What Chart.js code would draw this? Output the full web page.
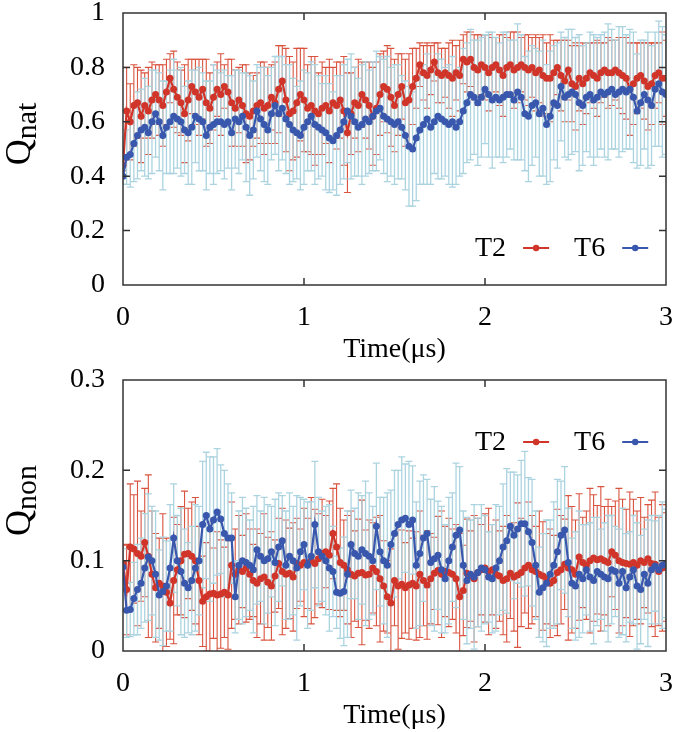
<!DOCTYPE html>
<html lang="en">
<head>
<meta charset="UTF-8">
<title>Qnat / Qnon vs time</title>
<script src="https://cdn.jsdelivr.net/npm/chart.js"></script>
<style>
  body { margin: 0; background: #fff; }
  canvas { display: block; }
</style>
</head>
<body>
<canvas id="natChart" width="675" height="366"></canvas>
<canvas id="nonChart" width="675" height="366"></canvas>

<script>
    // sampled every 0.02 us, 0..3 us
    const timeStep = 0.02;

    // Q_nat, T2 (red) and T6 (blue), with std. deviation
    const qnatT2 = [
        0.44, 0.64, 0.60, 0.66, 0.67, 0.62, 0.66, 0.64, 0.68, 0.70,
        0.68, 0.66, 0.71, 0.76, 0.72, 0.69, 0.67, 0.63, 0.68, 0.73,
        0.71, 0.69, 0.72, 0.67, 0.65, 0.69, 0.72, 0.70, 0.73, 0.71,
        0.67, 0.65, 0.68, 0.66, 0.63, 0.62, 0.64, 0.66, 0.67, 0.65,
        0.66, 0.69, 0.67, 0.72, 0.75, 0.68, 0.63, 0.64, 0.67, 0.70,
        0.68, 0.65, 0.66, 0.64, 0.63, 0.65, 0.66, 0.64, 0.67, 0.66,
        0.68, 0.64, 0.56, 0.63, 0.67, 0.66, 0.70, 0.68, 0.66, 0.62,
        0.65, 0.70, 0.73, 0.72, 0.69, 0.66, 0.70, 0.73, 0.67, 0.68,
        0.73, 0.76, 0.81, 0.78, 0.77, 0.79, 0.82, 0.78, 0.77, 0.78,
        0.77, 0.76, 0.78, 0.77, 0.83, 0.82, 0.83, 0.80, 0.79, 0.81,
        0.80, 0.78, 0.80, 0.81, 0.79, 0.77, 0.80, 0.81, 0.79, 0.80,
        0.81, 0.80, 0.79, 0.80, 0.78, 0.79, 0.77, 0.76, 0.76, 0.78,
        0.80, 0.77, 0.75, 0.79, 0.74, 0.73, 0.76, 0.74, 0.76, 0.78,
        0.77, 0.76, 0.78, 0.79, 0.78, 0.78, 0.79, 0.78, 0.77, 0.76,
        0.72, 0.74, 0.76, 0.77, 0.75, 0.73, 0.74, 0.77, 0.78, 0.76, 0.76
    ];
    const qnatT2Err = [
        0.02, 0.16, 0.14, 0.15, 0.13, 0.17, 0.12, 0.16, 0.14, 0.11,
        0.13, 0.15, 0.12, 0.09, 0.14, 0.13, 0.12, 0.18, 0.15, 0.10,
        0.12, 0.14, 0.11, 0.16, 0.13, 0.12, 0.10, 0.15, 0.08, 0.12,
        0.16, 0.14, 0.12, 0.15, 0.18, 0.16, 0.13, 0.12, 0.15, 0.17,
        0.14, 0.12, 0.15, 0.16, 0.13, 0.19, 0.21, 0.18, 0.20, 0.17,
        0.19, 0.16, 0.18, 0.20, 0.15, 0.17, 0.14, 0.19, 0.13, 0.16,
        0.14, 0.20, 0.22, 0.15, 0.13, 0.17, 0.12, 0.14, 0.16, 0.18,
        0.17, 0.15, 0.13, 0.16, 0.18, 0.17, 0.15, 0.12, 0.16, 0.17,
        0.14, 0.11, 0.08, 0.10, 0.12, 0.09, 0.07, 0.11, 0.10, 0.09,
        0.12, 0.14, 0.10, 0.13, 0.09, 0.11, 0.10, 0.12, 0.13, 0.11,
        0.12, 0.14, 0.11, 0.10, 0.13, 0.15, 0.11, 0.12, 0.14, 0.13,
        0.10, 0.12, 0.13, 0.11, 0.14, 0.12, 0.15, 0.13, 0.16, 0.12,
        0.10, 0.13, 0.15, 0.11, 0.14, 0.16, 0.12, 0.15, 0.13, 0.11,
        0.12, 0.14, 0.11, 0.10, 0.13, 0.12, 0.11, 0.13, 0.14, 0.15,
        0.17, 0.15, 0.13, 0.12, 0.14, 0.16, 0.15, 0.12, 0.11, 0.17, 0.14
    ];
    const qnatT6 = [
        0.40, 0.47, 0.48, 0.52, 0.55, 0.57, 0.58, 0.56, 0.60, 0.63,
        0.60, 0.55, 0.58, 0.60, 0.62, 0.61, 0.60, 0.57, 0.56, 0.58,
        0.62, 0.61, 0.60, 0.55, 0.58, 0.59, 0.60, 0.60, 0.59, 0.60,
        0.56, 0.61, 0.60, 0.62, 0.58, 0.55, 0.57, 0.64, 0.61, 0.59,
        0.57, 0.63, 0.66, 0.63, 0.65, 0.61, 0.59, 0.57, 0.56, 0.55,
        0.58, 0.60, 0.62, 0.59, 0.58, 0.57, 0.56, 0.54, 0.53, 0.55,
        0.57, 0.60, 0.64, 0.62, 0.60, 0.58, 0.59, 0.61, 0.60, 0.62,
        0.64, 0.65, 0.62, 0.61, 0.60, 0.59, 0.60, 0.58, 0.55, 0.51,
        0.50, 0.54, 0.57, 0.59, 0.61, 0.58, 0.60, 0.62, 0.61, 0.60,
        0.59, 0.60, 0.58, 0.60, 0.64, 0.67, 0.70, 0.69, 0.67, 0.69,
        0.72, 0.70, 0.68, 0.69, 0.68, 0.69, 0.70, 0.70, 0.68, 0.71,
        0.69, 0.63, 0.62, 0.66, 0.67, 0.63, 0.65, 0.59, 0.62, 0.67,
        0.66, 0.73, 0.69, 0.70, 0.71, 0.70, 0.67, 0.66, 0.69, 0.70,
        0.68, 0.69, 0.71, 0.70, 0.71, 0.72, 0.70, 0.71, 0.72, 0.71,
        0.72, 0.69, 0.64, 0.67, 0.70, 0.68, 0.66, 0.72, 0.74, 0.71, 0.70
    ];
    const qnatT6Err = [
        0.03, 0.10, 0.12, 0.14, 0.16, 0.15, 0.18, 0.17, 0.19, 0.16,
        0.18, 0.20, 0.17, 0.19, 0.21, 0.18, 0.20, 0.16, 0.19, 0.21,
        0.17, 0.19, 0.18, 0.20, 0.17, 0.22, 0.19, 0.18, 0.20, 0.17,
        0.21, 0.18, 0.19, 0.16, 0.20, 0.22, 0.18, 0.17, 0.19, 0.21,
        0.20, 0.17, 0.18, 0.21, 0.19, 0.20, 0.22, 0.19, 0.17, 0.20,
        0.21, 0.18, 0.20, 0.22, 0.19, 0.17, 0.21, 0.20, 0.18, 0.22,
        0.20, 0.21, 0.19, 0.23, 0.20, 0.18, 0.22, 0.21, 0.19, 0.20,
        0.22, 0.19, 0.21, 0.23, 0.20, 0.22, 0.21, 0.19, 0.20, 0.22,
        0.21, 0.23, 0.20, 0.22, 0.24, 0.21, 0.19, 0.23, 0.22, 0.20,
        0.22, 0.24, 0.21, 0.20, 0.23, 0.22, 0.24, 0.21, 0.23, 0.22,
        0.20, 0.23, 0.25, 0.22, 0.21, 0.24, 0.23, 0.20, 0.22, 0.25,
        0.23, 0.21, 0.24, 0.22, 0.20, 0.23, 0.25, 0.22, 0.24, 0.21,
        0.23, 0.20, 0.22, 0.24, 0.23, 0.21, 0.25, 0.22, 0.20, 0.23,
        0.24, 0.22, 0.21, 0.23, 0.25, 0.22, 0.20, 0.24, 0.23, 0.21,
        0.22, 0.24, 0.21, 0.23, 0.20, 0.25, 0.22, 0.21, 0.23, 0.24, 0.22
    ];

    // Q_non, T2 and T6
    const qnonT2 = [
        0.097, 0.068, 0.115, 0.113, 0.108, 0.105, 0.120, 0.105, 0.085, 0.070,
        0.075, 0.072, 0.065, 0.053, 0.078, 0.090, 0.100, 0.107, 0.108, 0.105,
        0.100, 0.078, 0.055, 0.060, 0.063, 0.064, 0.062, 0.063, 0.065, 0.062,
        0.095, 0.085, 0.090, 0.088, 0.092, 0.085, 0.078, 0.075, 0.080, 0.082,
        0.076, 0.072, 0.083, 0.097, 0.088, 0.085, 0.086, 0.082, 0.097, 0.095,
        0.098, 0.097, 0.100, 0.097, 0.102, 0.108, 0.110, 0.106, 0.130, 0.115,
        0.098, 0.095, 0.090, 0.085, 0.083, 0.086, 0.087, 0.084, 0.085, 0.092,
        0.088, 0.080, 0.072, 0.060, 0.053, 0.078, 0.072, 0.074, 0.070, 0.073,
        0.075, 0.072, 0.085, 0.078, 0.073, 0.080, 0.086, 0.089, 0.085, 0.088,
        0.087, 0.085, 0.080, 0.060, 0.067, 0.086, 0.083, 0.080, 0.087, 0.090,
        0.092, 0.088, 0.090, 0.085, 0.083, 0.078, 0.080, 0.086, 0.082, 0.084,
        0.087, 0.092, 0.095, 0.090, 0.088, 0.085, 0.083, 0.080, 0.075, 0.078,
        0.087, 0.090, 0.096, 0.092, 0.090, 0.085, 0.104, 0.098, 0.095, 0.100,
        0.103, 0.101, 0.102, 0.100, 0.098, 0.110, 0.106, 0.100, 0.098, 0.097,
        0.096, 0.098, 0.095, 0.100, 0.098, 0.102, 0.097, 0.096, 0.088, 0.092, 0.093
    ];
    const qnonT2Err = [
        0.02, 0.05, 0.07, 0.06, 0.08, 0.05, 0.06, 0.09, 0.07, 0.06,
        0.05, 0.08, 0.06, 0.04, 0.07, 0.05, 0.06, 0.07, 0.05, 0.06,
        0.07, 0.06, 0.05, 0.06, 0.08, 0.05, 0.07, 0.06, 0.05, 0.06,
        0.07, 0.05, 0.06, 0.04, 0.06, 0.05, 0.04, 0.06, 0.05, 0.07,
        0.05, 0.06, 0.04, 0.05, 0.07, 0.06, 0.05, 0.06, 0.05, 0.04,
        0.06, 0.05, 0.07, 0.06, 0.05, 0.06, 0.04, 0.06, 0.05, 0.07,
        0.06, 0.05, 0.06, 0.07, 0.05, 0.06, 0.08, 0.05, 0.06, 0.05,
        0.06, 0.07, 0.05, 0.04, 0.06, 0.05, 0.07, 0.06, 0.05, 0.06,
        0.05, 0.06, 0.07, 0.05, 0.06, 0.05, 0.04, 0.06, 0.07, 0.05,
        0.06, 0.05, 0.06, 0.07, 0.05, 0.06, 0.05, 0.07, 0.06, 0.05,
        0.06, 0.07, 0.05, 0.06, 0.05, 0.06, 0.07, 0.05, 0.06, 0.08,
        0.06, 0.05, 0.07, 0.06, 0.05, 0.07, 0.06, 0.05, 0.06, 0.05,
        0.07, 0.06, 0.05, 0.08, 0.07, 0.06, 0.07, 0.05, 0.06, 0.08,
        0.07, 0.06, 0.08, 0.06, 0.07, 0.05, 0.06, 0.08, 0.07, 0.06,
        0.08, 0.07, 0.06, 0.07, 0.05, 0.06, 0.07, 0.08, 0.06, 0.07, 0.06
    ];
    const qnonT6 = [
        0.093, 0.045, 0.046, 0.058, 0.068, 0.075, 0.092, 0.104, 0.100, 0.085,
        0.062, 0.066, 0.072, 0.092, 0.125, 0.100, 0.088, 0.075, 0.070, 0.078,
        0.092, 0.100, 0.140, 0.150, 0.135, 0.145, 0.154, 0.146, 0.130, 0.125,
        0.125, 0.060, 0.095, 0.100, 0.098, 0.095, 0.090, 0.112, 0.105, 0.100,
        0.102, 0.110, 0.098, 0.115, 0.122, 0.095, 0.105, 0.100, 0.092, 0.110,
        0.118, 0.095, 0.105, 0.140, 0.110, 0.105, 0.100, 0.092, 0.088, 0.065,
        0.064, 0.066, 0.085, 0.118, 0.108, 0.105, 0.112, 0.108, 0.105, 0.100,
        0.138, 0.110, 0.100, 0.095, 0.118, 0.130, 0.140, 0.145, 0.147, 0.140,
        0.145, 0.095, 0.108, 0.125, 0.130, 0.098, 0.102, 0.106, 0.090, 0.080,
        0.100, 0.115, 0.128, 0.134, 0.095, 0.078, 0.085, 0.082, 0.087, 0.092,
        0.090, 0.082, 0.080, 0.092, 0.100, 0.115, 0.122, 0.138, 0.128, 0.135,
        0.141, 0.141, 0.132, 0.120, 0.095, 0.065, 0.070, 0.075, 0.085, 0.095,
        0.110, 0.128, 0.134, 0.098, 0.075, 0.072, 0.085, 0.080, 0.090, 0.082,
        0.078, 0.088, 0.085, 0.082, 0.080, 0.090, 0.088, 0.075, 0.088, 0.070,
        0.082, 0.090, 0.072, 0.068, 0.085, 0.075, 0.090, 0.094, 0.090, 0.095, 0.097
    ];
    const qnonT6Err = [
        0.02, 0.03, 0.03, 0.04, 0.05, 0.05, 0.06, 0.07, 0.06, 0.07,
        0.05, 0.06, 0.05, 0.07, 0.06, 0.05, 0.07, 0.06, 0.05, 0.06,
        0.07, 0.06, 0.07, 0.07, 0.08, 0.07, 0.07, 0.06, 0.07, 0.06,
        0.05, 0.04, 0.06, 0.07, 0.06, 0.05, 0.07, 0.06, 0.05, 0.07,
        0.06, 0.05, 0.07, 0.06, 0.05, 0.06, 0.07, 0.06, 0.08, 0.06,
        0.05, 0.07, 0.06, 0.07, 0.06, 0.05, 0.06, 0.07, 0.05, 0.04,
        0.05, 0.06, 0.07, 0.06, 0.05, 0.07, 0.06, 0.08, 0.07, 0.06,
        0.07, 0.06, 0.07, 0.08, 0.06, 0.07, 0.06, 0.07, 0.06, 0.07,
        0.06, 0.07, 0.08, 0.07, 0.06, 0.07, 0.08, 0.06, 0.07, 0.06,
        0.07, 0.06, 0.08, 0.07, 0.06, 0.07, 0.06, 0.08, 0.06, 0.07,
        0.06, 0.05, 0.06, 0.07, 0.06, 0.07, 0.08, 0.06, 0.07, 0.06,
        0.07, 0.08, 0.06, 0.07, 0.06, 0.05, 0.06, 0.07, 0.06, 0.07,
        0.08, 0.06, 0.07, 0.06, 0.05, 0.06, 0.07, 0.06, 0.05, 0.06,
        0.07, 0.06, 0.05, 0.06, 0.07, 0.06, 0.05, 0.06, 0.07, 0.06,
        0.05, 0.06, 0.07, 0.06, 0.05, 0.07, 0.06, 0.05, 0.06, 0.07, 0.06
    ];

    const serif = '"Liberation Serif", "DejaVu Serif", serif';
    const red = '#d1352a', redErr = '#d9533f';
    const blue = '#3857ad', blueErr = '#acd4e0';

    const toPoints = vals => vals.map((v, i) => ({ x: +(i * timeStep).toFixed(2), y: v }));

    // vertical error bars with caps, drawn under the lines
    const errorBars = {
        id: 'errorBars',
        beforeDatasetsDraw(chart) {
            const { ctx, chartArea: a, scales: { x, y } } = chart;
            ctx.save();
            ctx.beginPath();
            ctx.rect(a.left, a.top, a.right - a.left, a.bottom - a.top);
            ctx.clip();
            chart.data.datasets.forEach(ds => {
                ctx.strokeStyle = ds.errorColor;
                ctx.lineWidth = ds.errorWidth;
                ds.data.forEach((p, i) => {
                    const e = ds.errors[i] || 0;
                    const px = x.getPixelForValue(p.x);
                    const hi = y.getPixelForValue(p.y + e);
                    const lo = y.getPixelForValue(p.y - e);
                    ctx.beginPath();
                    ctx.moveTo(px, hi); ctx.lineTo(px, lo);
                    ctx.moveTo(px - 3.5, hi); ctx.lineTo(px + 3.5, hi);
                    ctx.moveTo(px - 3.5, lo); ctx.lineTo(px + 3.5, lo);
                    ctx.stroke();
                });
            });
            ctx.restore();
        }
    };

    // gnuplot-like box with inward ticks on all four sides
    const frame = {
        id: 'frame',
        afterDatasetsDraw(chart) {
            const { ctx, chartArea: a, scales: { x, y } } = chart;
            const len = 7;
            ctx.save();
            ctx.strokeStyle = '#333';
            ctx.lineWidth = 1.5;
            ctx.strokeRect(a.left, a.top, a.right - a.left, a.bottom - a.top);
            ctx.beginPath();
            x.ticks.forEach(t => {
                const px = x.getPixelForValue(t.value);
                if (px <= a.left + 1 || px >= a.right - 1) return;
                ctx.moveTo(px, a.bottom); ctx.lineTo(px, a.bottom - len);
                ctx.moveTo(px, a.top); ctx.lineTo(px, a.top + len);
            });
            y.ticks.forEach(t => {
                const py = y.getPixelForValue(t.value);
                if (py <= a.top + 1 || py >= a.bottom - 1) return;
                ctx.moveTo(a.left, py); ctx.lineTo(a.left + len, py);
                ctx.moveTo(a.right, py); ctx.lineTo(a.right - len, py);
            });
            ctx.stroke();
            ctx.restore();
        }
    };

    // rotated y title "Q" with subscript
    const yTitle = {
        id: 'yTitle',
        afterDraw(chart, args, opts) {
            const { ctx, chartArea: a } = chart;
            ctx.save();
            ctx.fillStyle = '#000';
            ctx.font = '36px ' + serif;
            const wQ = ctx.measureText('Q').width;
            ctx.font = '30px ' + serif;
            const wS = ctx.measureText(opts.sub).width;
            const cy = (a.top + a.bottom) / 2 - 15;
            ctx.translate(30, cy + (wQ + wS) / 2);
            ctx.rotate(-Math.PI / 2);
            ctx.textBaseline = 'alphabetic';
            ctx.font = '36px ' + serif;
            ctx.fillText('Q', 0, 0);
            ctx.font = '30px ' + serif;
            ctx.fillText(opts.sub, wQ, 6);
            ctx.restore();
        }
    };

    // key inside the plot: "T2 -o-  T6 -o-"
    const seriesKey = {
        id: 'seriesKey',
        afterDraw(chart, args, opts) {
            const { ctx, chartArea: a } = chart;
            const cy = opts.anchor === 'bottom' ? a.bottom - opts.offset : a.top + opts.offset;
            let xPos = a.right - 191;
            ctx.save();
            ctx.font = '28px ' + serif;
            ctx.textBaseline = 'middle';
            chart.data.datasets.forEach(ds => {
                ctx.fillStyle = '#000';
                ctx.fillText(ds.label, xPos, cy + 1);
                xPos += ctx.measureText(ds.label).width + 17;
                ctx.strokeStyle = ds.borderColor;
                ctx.lineWidth = 2;
                ctx.beginPath();
                ctx.moveTo(xPos, cy); ctx.lineTo(xPos + 26, cy);
                ctx.stroke();
                ctx.fillStyle = ds.borderColor;
                ctx.beginPath();
                ctx.arc(xPos + 13, cy, 3.2, 0, Math.PI * 2);
                ctx.fill();
                xPos += 26 + 25;
            });
            ctx.restore();
        }
    };

    function makePanel(id, p) {
        const ctx = document.getElementById(id).getContext('2d');
        return new Chart(ctx, {
            type: 'line',
            data: {
                datasets: [{
                    label: 'T2',
                    data: toPoints(p.t2),
                    errors: p.t2Err,
                    errorColor: redErr,
                    errorWidth: 1.1,
                    borderColor: red,
                    backgroundColor: red,
                    order: 2
                }, {
                    label: 'T6',
                    data: toPoints(p.t6),
                    errors: p.t6Err,
                    errorColor: blueErr,
                    errorWidth: 1.3,
                    borderColor: blue,
                    backgroundColor: blue,
                    order: 1
                }]
            },
            options: {
                responsive: false,
                animation: false,
                layout: { padding: { top: p.padTop, right: 9, left: 0, bottom: 0 } },
                elements: {
                    point: { radius: 3.5, borderWidth: 0 },
                    line: { borderWidth: 2.2, tension: 0 }
                },
                plugins: {
                    legend: { display: false },
                    tooltip: { enabled: false },
                    yTitle: { sub: p.sub },
                    seriesKey: { anchor: p.keyAnchor, offset: p.keyOffset }
                },
                scales: {
                    x: {
                        type: 'linear',
                        min: 0,
                        max: 3,
                        ticks: { stepSize: 1, padding: 16, color: '#000', maxRotation: 0, font: { family: serif, size: 28 } },
                        grid: { display: false, drawTicks: false },
                        border: { display: false },
                        title: { display: true, text: 'Time(μs)', color: '#000', padding: 0, font: { family: serif, size: 28 } },
                        afterFit: s => { s.height = 81; s.paddingLeft = 0; s.paddingRight = 0; }
                    },
                    y: {
                        min: 0,
                        max: p.yMax,
                        ticks: {
                            stepSize: p.yStep, padding: 18, color: '#000',
                            font: { family: serif, size: 28 },
                            callback: v => String(Math.round(v * 10) / 10)
                        },
                        grid: { display: false, drawTicks: false },
                        border: { display: false },
                        afterFit: s => { s.width = 123; s.paddingTop = 0; s.paddingBottom = 0; }
                    }
                }
            },
            plugins: [errorBars, frame, yTitle, seriesKey]
        });
    }

    makePanel('natChart', {
        t2: qnatT2, t2Err: qnatT2Err, t6: qnatT6, t6Err: qnatT6Err,
        yMax: 1, yStep: 0.2, sub: 'nat', padTop: 13, keyAnchor: 'bottom', keyOffset: 37
    });
    makePanel('nonChart', {
        t2: qnonT2, t2Err: qnonT2Err, t6: qnonT6, t6Err: qnonT6Err,
        yMax: 0.3, yStep: 0.1, sub: 'non', padTop: 14, keyAnchor: 'top', keyOffset: 62
    });
</script>
</body>
</html>
